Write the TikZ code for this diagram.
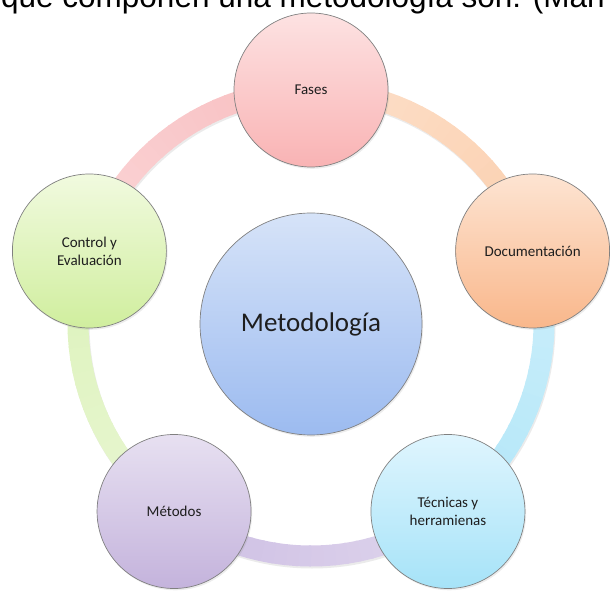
\documentclass[tikz,border=0pt]{standalone}
\usepackage{fontspec}
\setmainfont{Carlito}
\newfontfamily\headfont{Liberation Sans}
\usetikzlibrary{calc,shadows}

% circle fills (top / bottom of the gradient)
\definecolor{fasesT}{HTML}{FDE2E2}\definecolor{fasesB}{HTML}{F9B3B4}
\definecolor{docsT}{HTML}{FDE4D2}\definecolor{docsB}{HTML}{F9B78B}
\definecolor{tecT}{HTML}{DFF5FE}\definecolor{tecB}{HTML}{A6E3F8}
\definecolor{metT}{HTML}{E7E0F1}\definecolor{metB}{HTML}{C4B3DC}
\definecolor{conT}{HTML}{F1FADF}\definecolor{conB}{HTML}{D0EE9E}
\definecolor{cenT}{HTML}{D6E3F8}\definecolor{cenB}{HTML}{9CBBF0}
% ring segment colours
\definecolor{pinkA}{HTML}{F8BEC0}
\definecolor{peachA}{HTML}{FBCFAE}
\definecolor{blueA}{HTML}{B1E6F8}
\definecolor{lavA}{HTML}{CDBEE3}
\definecolor{greenA}{HTML}{DCF2BA}
\definecolor{labeltext}{HTML}{1E1E1E}

\begin{document}
\begin{tikzpicture}[x=1pt,y=1pt,
  bubble/.style={circle, draw=black!50, line width=0.7pt, inner sep=0pt,
    minimum size=154pt, align=center, text=labeltext,
    font=\fontsize{15}{18}\selectfont,
    drop shadow={opacity=0.15,shadow xshift=1.2pt,shadow yshift=-1.8pt}},
  hub/.style={bubble, minimum size=222pt, font=\fontsize{27}{32}\selectfont},
  ringband/.style={line width=21pt},
]
\useasboundingbox (0,0) rectangle (610,592);
\clip (0,0) rectangle (610,592);

% heading line, cut by the top edge
\node[anchor=base west, inner sep=0pt, font=\headfont\fontsize{31.5}{36}\selectfont]
  (head) at (1,584) {que componen una metodología son: (Man};

\coordinate (ring) at (311,269);

% faint shadow under the ring
\draw[ringband, black, opacity=0.08] ($(ring)+(1,-2)$) circle[radius=233];

% ring segments, fading in toward the circle they lead to
\foreach \a/\col in {162/pinkA, 90/peachA, 18/blueA, -54/lavA, -126/greenA} {
  \foreach \i in {0,...,23} {
    \pgfmathsetmacro\sa{\a-3*\i}
    \pgfmathtruncatemacro\p{65+35*\i/23}
    \draw[ringband, color=\col!\p!white]
      ($(ring)+(\sa:233)$) arc[start angle=\sa, end angle=\sa-3.5, radius=233];
  }
}

% centre circle
\node[hub, top color=cenT, bottom color=cenB] (metodologia) at (311,268) {Metodología};

% outer circles
\node[bubble, top color=fasesT, bottom color=fasesB] (fases) at ($(ring)+(90:233)$) {Fases};
\node[bubble, top color=docsT, bottom color=docsB] (docs) at ($(ring)+(18:233)$) {Documentación};
\node[bubble, top color=tecT, bottom color=tecB] (tecnicas) at ($(ring)+(-54:233)$) {Técnicas y\\herramienas};
\node[bubble, top color=metT, bottom color=metB] (metodos) at ($(ring)+(-126:233)$) {Métodos};
\node[bubble, top color=conT, bottom color=conB] (control) at ($(ring)+(162:233)$) {Control y\\Evaluación};
\end{tikzpicture}
\end{document}
